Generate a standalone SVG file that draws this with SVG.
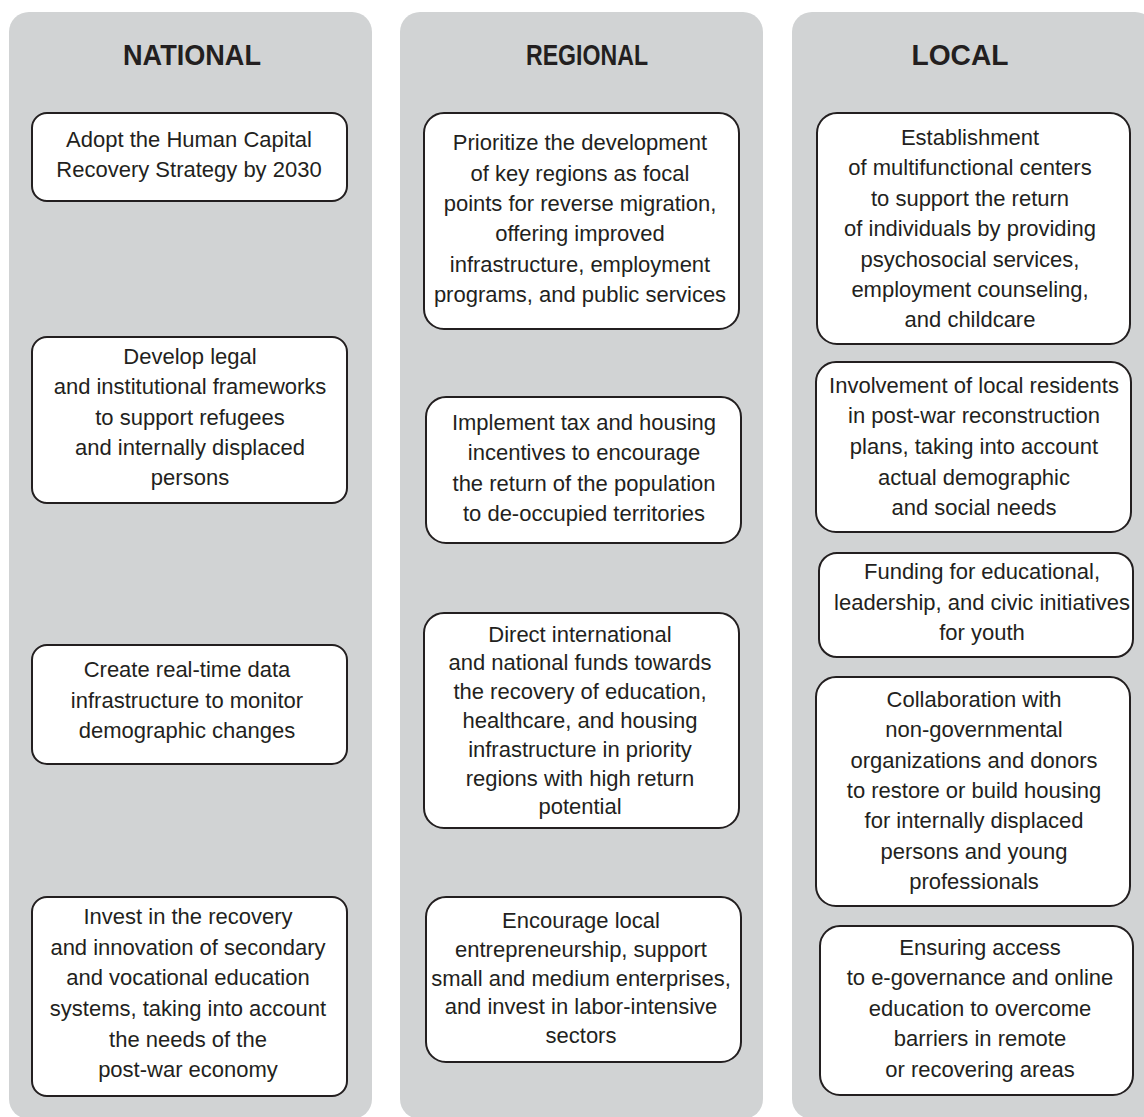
<svg xmlns="http://www.w3.org/2000/svg" width="1144" height="1117" viewBox="0 0 1144 1117">
<style>
.panel{fill:#d1d3d4}
.box{fill:#ffffff;stroke:#231f20;stroke-width:2}
.hd{font-family:"Liberation Sans",Arial,sans-serif;font-weight:bold;font-size:29px;fill:#231f20;text-anchor:middle}
.tx{font-family:"Liberation Sans",Arial,sans-serif;font-size:22px;fill:#231f20;text-anchor:middle}
</style>
<rect width="1144" height="1117" fill="#ffffff"/>
<g id="columns">
<rect class="panel" x="9" y="12" width="363" height="1107" rx="20"/>
<rect class="panel" x="400" y="12" width="363" height="1107" rx="20"/>
<rect class="panel" x="792" y="12" width="363" height="1107" rx="20"/>
<text class="hd" x="192" y="65" textLength="138" lengthAdjust="spacingAndGlyphs">NATIONAL</text>
<text class="hd" x="587" y="65" textLength="122" lengthAdjust="spacingAndGlyphs">REGIONAL</text>
<text class="hd" x="960" y="65" textLength="97" lengthAdjust="spacingAndGlyphs">LOCAL</text>
</g>
<g id="connectors"></g>
<g id="n1"><rect class="box" x="32" y="113" width="315" height="88" rx="15"/>
<text class="tx"><tspan x="189" y="147">Adopt the Human Capital</tspan><tspan x="189" y="177">Recovery Strategy by 2030</tspan></text></g>
<g id="n2"><rect class="box" x="32" y="337" width="315" height="166" rx="15"/>
<text class="tx"><tspan x="190" y="364">Develop legal</tspan><tspan x="190" y="394">and institutional frameworks</tspan><tspan x="190" y="425">to support refugees</tspan><tspan x="190" y="455">and internally displaced</tspan><tspan x="190" y="485">persons</tspan></text></g>
<g id="n3"><rect class="box" x="32" y="645" width="315" height="119" rx="15"/>
<text class="tx"><tspan x="187" y="677">Create real-time data</tspan><tspan x="187" y="708">infrastructure to monitor</tspan><tspan x="187" y="738">demographic changes</tspan></text></g>
<g id="n4"><rect class="box" x="32" y="897" width="315" height="199" rx="15"/>
<text class="tx"><tspan x="188" y="924">Invest in the recovery</tspan><tspan x="188" y="955">and innovation of secondary</tspan><tspan x="188" y="985">and vocational education</tspan><tspan x="188" y="1016">systems, taking into account</tspan><tspan x="188" y="1047">the needs of the</tspan><tspan x="188" y="1077">post-war economy</tspan></text></g>
<g id="r1"><rect class="box" x="424" y="113" width="315" height="216" rx="20"/>
<text class="tx"><tspan x="580" y="150">Prioritize the development</tspan><tspan x="580" y="181">of key regions as focal</tspan><tspan x="580" y="211">points for reverse migration,</tspan><tspan x="580" y="241">offering improved</tspan><tspan x="580" y="272">infrastructure, employment</tspan><tspan x="580" y="302">programs, and public services</tspan></text></g>
<g id="r2"><rect class="box" x="426" y="397" width="315" height="146" rx="20"/>
<text class="tx"><tspan x="584" y="430">Implement tax and housing</tspan><tspan x="584" y="460">incentives to encourage</tspan><tspan x="584" y="491">the return of the population</tspan><tspan x="584" y="521">to de-occupied territories</tspan></text></g>
<g id="r3"><rect class="box" x="424" y="613" width="315" height="215" rx="20"/>
<text class="tx"><tspan x="580" y="642">Direct international</tspan><tspan x="580" y="670">and national funds towards</tspan><tspan x="580" y="699">the recovery of education,</tspan><tspan x="580" y="728">healthcare, and housing</tspan><tspan x="580" y="757">infrastructure in priority</tspan><tspan x="580" y="786">regions with high return</tspan><tspan x="580" y="814">potential</tspan></text></g>
<g id="r4"><rect class="box" x="426" y="897" width="315" height="165" rx="20"/>
<text class="tx"><tspan x="581" y="928">Encourage local</tspan><tspan x="581" y="957">entrepreneurship, support</tspan><tspan x="581" y="986">small and medium enterprises,</tspan><tspan x="581" y="1014">and invest in labor-intensive</tspan><tspan x="581" y="1043">sectors</tspan></text></g>
<g id="l1"><rect class="box" x="817" y="113" width="313" height="231" rx="20"/>
<text class="tx"><tspan x="970" y="145">Establishment</tspan><tspan x="970" y="175">of multifunctional centers</tspan><tspan x="970" y="206">to support the return</tspan><tspan x="970" y="236">of individuals by providing</tspan><tspan x="970" y="267">psychosocial services,</tspan><tspan x="970" y="297">employment counseling,</tspan><tspan x="970" y="327">and childcare</tspan></text></g>
<g id="l2"><rect class="box" x="816" y="362" width="315" height="170" rx="20"/>
<text class="tx"><tspan x="974" y="393">Involvement of local residents</tspan><tspan x="974" y="423">in post-war reconstruction</tspan><tspan x="974" y="454">plans, taking into account</tspan><tspan x="974" y="485">actual demographic</tspan><tspan x="974" y="515">and social needs</tspan></text></g>
<g id="l3"><rect class="box" x="819" y="553" width="314" height="104" rx="18"/>
<text class="tx"><tspan x="982" y="579">Funding for educational,</tspan><tspan x="982" y="610">leadership, and civic initiatives</tspan><tspan x="982" y="640">for youth</tspan></text></g>
<g id="l4"><rect class="box" x="816" y="677" width="314" height="229" rx="20"/>
<text class="tx"><tspan x="974" y="707">Collaboration with</tspan><tspan x="974" y="737">non-governmental</tspan><tspan x="974" y="768">organizations and donors</tspan><tspan x="974" y="798">to restore or build housing</tspan><tspan x="974" y="828">for internally displaced</tspan><tspan x="974" y="859">persons and young</tspan><tspan x="974" y="889">professionals</tspan></text></g>
<g id="l5"><rect class="box" x="820" y="926" width="313" height="169" rx="20"/>
<text class="tx"><tspan x="980" y="955">Ensuring access</tspan><tspan x="980" y="985">to e-governance and online</tspan><tspan x="980" y="1016">education to overcome</tspan><tspan x="980" y="1046">barriers in remote</tspan><tspan x="980" y="1077">or recovering areas</tspan></text></g>
</svg>
